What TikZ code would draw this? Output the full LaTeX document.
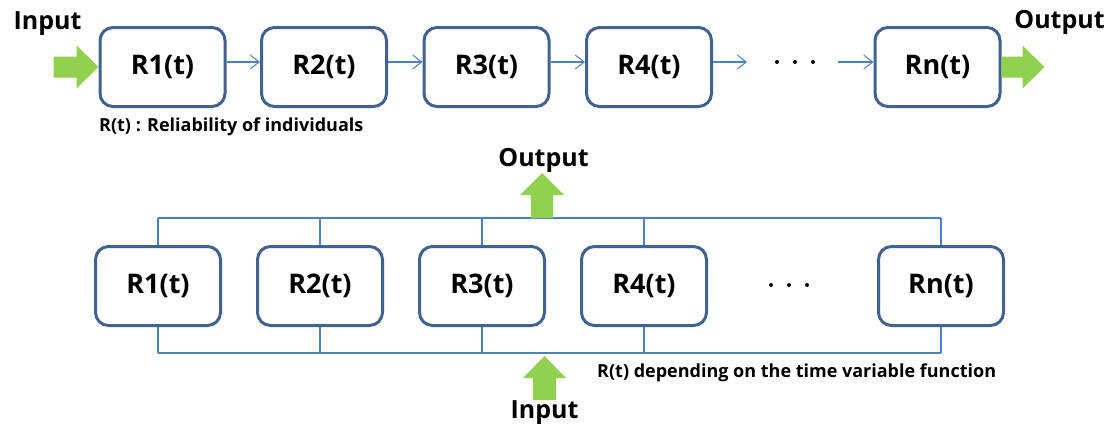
\documentclass[tikz,border=0pt]{standalone}
\usepackage{fontspec}
\setmainfont{Open Sans}
\usetikzlibrary{arrows.meta,calc}
\definecolor{boxblue}{HTML}{41628F}
\definecolor{linkblue}{HTML}{4F81BD}
\definecolor{arrgreen}{HTML}{92D050}
\tikzset{
  rbox/.style={draw=boxblue, line width=3pt, rounded corners=13pt, minimum width=125pt, minimum height=79pt, inner sep=0pt, font=\bfseries\fontsize{27}{30}\selectfont, fill=white},
  conn/.style={draw=linkblue, line width=1.1pt, -{Straight Barb[length=9pt,width=14pt,line width=1pt]}},
  bus/.style={draw=linkblue, line width=1.1pt},
  bigtxt/.style={font=\bfseries\fontsize{25}{28}\selectfont, inner sep=0pt},
  smalltxt/.style={font=\bfseries\fontsize{18}{20}\selectfont, inner sep=0pt},
  greenarr/.style={fill=arrgreen, draw=none},
  dot/.style={circle, fill=black, inner sep=0pt, minimum size=4pt}
}
\begin{document}
\begin{tikzpicture}[x=1pt,y=-1pt]
\useasboundingbox (0,0) rectangle (1113,429);
% ---------- top row (series) ----------
\node[rbox] (r1) at (162.5,67) {R1(t)};
\node[rbox] (r2) at (324,67) {R2(t)};
\node[rbox] (r3) at (486.5,67) {R3(t)};
\node[rbox] (r4) at (649,67) {R4(t)};
\node[rbox] (rn) at (937.5,67) {Rn(t)};
\node[dot] (td1) at (777,62) {};
\node[dot] (td2) at (795,62) {};
\node[dot] (td3) at (813,62) {};
\coordinate (t4end) at (747,62);
\coordinate (tnstart) at (838,62);
\draw[conn] ([yshift=5pt]r1.east) -- ([yshift=5pt]r2.west);
\draw[conn] ([yshift=5pt]r2.east) -- ([yshift=5pt]r3.west);
\draw[conn] ([yshift=5pt]r3.east) -- ([yshift=5pt]r4.west);
\draw[conn] ([yshift=5pt]r4.east) -- (t4end);
\draw[conn] (tnstart) -- ([yshift=5pt]rn.west);
% input arrow (right-pointing)
\fill[greenarr] ($(r1.west)+(-45,-10.5)$) -- ($(r1.west)+(-22,-10.5)$) -- ($(r1.west)+(-22,-21.5)$)
  -- (r1.west) -- ($(r1.west)+(-22,21.5)$) -- ($(r1.west)+(-22,10.5)$) -- ($(r1.west)+(-45,10.5)$) -- cycle;
% output arrow
\fill[greenarr] ($(rn.east)+(0,-10.5)$) -- ($(rn.east)+(21,-10.5)$) -- ($(rn.east)+(21,-21.5)$)
  -- ($(rn.east)+(43,0)$) -- ($(rn.east)+(21,21.5)$) -- ($(rn.east)+(21,10.5)$) -- ($(rn.east)+(0,10.5)$) -- cycle;
\node[bigtxt] (tin) at (47.5,24) {Input};
\node[bigtxt] (tout) at (1059.5,22) {Output};
\node[smalltxt, anchor=west] (tnote) at (99,127) {R(t) : Reliability of individuals};
% ---------- bottom row (parallel) ----------
\node[rbox] (p1) at (158,286) {R1(t)};
\node[rbox] (p2) at (320,286) {R2(t)};
\node[rbox] (p3) at (482,286) {R3(t)};
\node[rbox] (p4) at (644,286) {R4(t)};
\node[rbox] (pn) at (941,286) {Rn(t)};
\node[dot] (bd1) at (771,285) {};
\node[dot] (bd2) at (789,285) {};
\node[dot] (bd3) at (807,285) {};
\coordinate (busT1) at (158,218);
\coordinate (busTn) at (941,218);
\coordinate (busB1) at (158,353);
\coordinate (busBn) at (941,353);
\draw[bus] (busT1) -- (busTn);
\draw[bus] (busB1) -- (busBn);
\foreach \p in {p1,p2,p3,p4,pn}{
  \draw[bus] (\p.north) -- (\p.north |- busT1);
  \draw[bus] (\p.south) -- (\p.south |- busB1);
}
% output arrow (up)
\coordinate (oBase) at (542,218);
\fill[greenarr] ($(oBase)+(-11,0)$) -- ($(oBase)+(-11,-23)$) -- ($(oBase)+(-22,-23)$) -- ($(oBase)+(0,-45)$)
  -- ($(oBase)+(22,-23)$) -- ($(oBase)+(11,-23)$) -- ($(oBase)+(11,0)$) -- cycle;
% input arrow (up)
\coordinate (iTip) at (544.5,356);
\fill[greenarr] (iTip) -- ($(iTip)+(21.5,22)$) -- ($(iTip)+(11.5,22)$) -- ($(iTip)+(11.5,44)$)
  -- ($(iTip)+(-11.5,44)$) -- ($(iTip)+(-11.5,22)$) -- ($(iTip)+(-21.5,22)$) -- cycle;
\node[bigtxt] (bout) at (543.5,160) {Output};
\node[bigtxt] (bin) at (544.5,413) {Input};
\node[smalltxt, anchor=west] (bnote) at (597,373) {R(t) depending on the time variable function};
\end{tikzpicture}
\end{document}
